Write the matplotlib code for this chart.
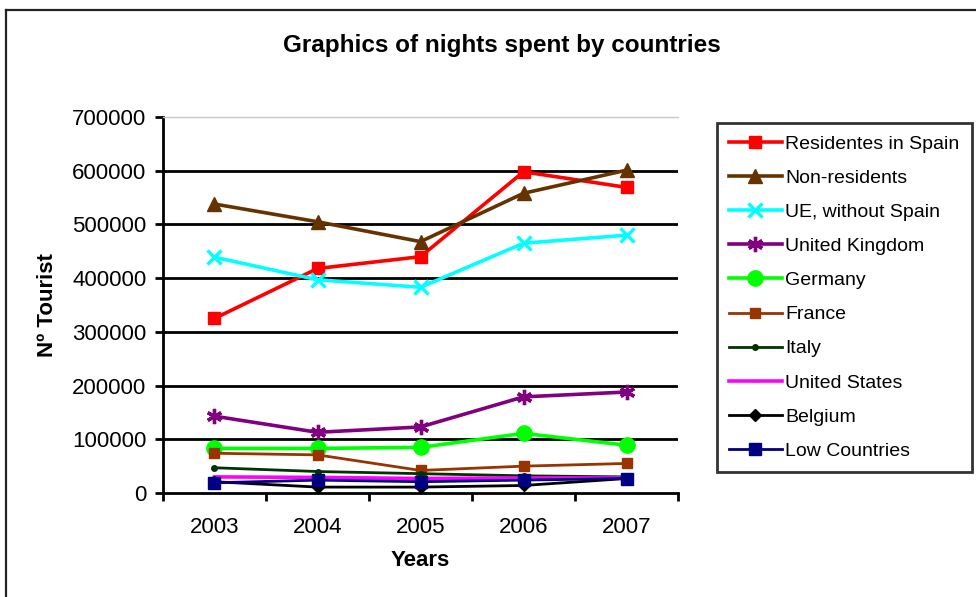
import matplotlib
matplotlib.use('Agg')
import matplotlib.pyplot as plt
from matplotlib.lines import Line2D

# DATA
years = ["2003", "2004", "2005", "2006", "2007"]
residents_spain = [325000, 418000, 440000, 598000, 569000]
non_residents = [538000, 505000, 468000, 558000, 601000]
ue_without_spain = [439000, 397000, 383000, 465000, 480000]
united_kingdom = [143000, 113000, 123000, 179000, 188000]
germany = [83000, 83000, 85000, 111000, 89000]
france = [74000, 71000, 42000, 50000, 55000]
italy = [47000, 40000, 36000, 32000, 30000]
united_states = [30000, 29000, 27000, 28000, 28000]
belgium = [21000, 11000, 11000, 14000, 27000]
low_countries = [19000, 24000, 21000, 24000, 27000]


def nights_chart():

    plt.rcParams['font.family'] = ['Liberation Sans', 'DejaVu Sans']

    fig = plt.figure(figsize=(9.76, 5.97), dpi=100)
    ax = fig.add_axes([0.167, 0.1742, 0.5277, 0.6298])

    x = list(range(len(years)))

    # SERIES: (values, label, color, marker, marker size, line width)
    series = [
        (residents_spain, "Residentes in Spain", "#FF0000", "s", 9, 2.6),
        (non_residents, "Non-residents", "#663300", "^", 10, 2.6),
        (ue_without_spain, "UE, without Spain", "#00FFFF", "x", 10, 2.6),
        (united_kingdom, "United Kingdom", "#800080", (6, 2, 0), 11, 2.6),
        (germany, "Germany", "#00FF00", "o", 11, 2.6),
        (france, "France", "#993300", "s", 7, 2.0),
        (italy, "Italy", "#003300", "o", 4, 2.0),
        (united_states, "United States", "#FF00FF", "_", 6, 2.6),
        (belgium, "Belgium", "#000000", "D", 6, 2.0),
        (low_countries, "Low Countries", "#000080", "s", 9, 2.0),
    ]

    for values, label, color, marker, msize, lw in series:
        ax.plot(x, values, color=color, marker=marker, markersize=msize,
                markeredgewidth=2.4 if marker in ("x", (6, 2, 0)) else 1,
                markeredgecolor=color, markerfacecolor=color,
                linewidth=lw, label=label, clip_on=False)

    # AXES
    ax.set_xlim(-0.5, len(years) - 0.5)
    ax.set_ylim(0, 700000)
    ax.set_yticks(range(0, 700001, 100000))
    ax.set_yticklabels([str(v) for v in range(0, 700001, 100000)])
    ax.set_xticks(x)
    ax.set_xticklabels(years)
    ax.set_xticks([i - 0.5 for i in range(len(years) + 1)], minor=True)
    ax.tick_params(axis='x', which='major', length=0, labelsize=16, pad=17)
    ax.tick_params(axis='x', which='minor', length=6, width=2, direction='out')
    ax.tick_params(axis='y', length=6, width=2, labelsize=16, pad=6)

    # GRID
    for v in range(100000, 700000, 100000):
        ax.axhline(v, color='black', linewidth=2, zorder=0.5)
    ax.spines['top'].set_color('#c8c8c8')
    ax.spines['top'].set_linewidth(1)
    ax.spines['right'].set_visible(False)
    ax.spines['left'].set_linewidth(2)
    ax.spines['bottom'].set_linewidth(2)

    # LABELS
    ax.set_xlabel("Years", fontsize=16, fontweight='bold', labelpad=9)
    ax.set_ylabel("Nº Tourist", fontsize=16, fontweight='bold', labelpad=10)
    fig.text(0.514, 0.924, "Graphics of nights spent by countries",
             ha='center', va='center', fontsize=17.5, fontweight='bold')

    # LEGEND
    leg = fig.legend(loc='upper left', bbox_to_anchor=(0.7346, 0.794),
                     fontsize=14, frameon=True, fancybox=False,
                     handlelength=2.7, handletextpad=0.2, labelspacing=0.85,
                     borderpad=0.62, borderaxespad=0)
    leg.get_frame().set_edgecolor('black')
    leg.get_frame().set_linewidth(2)

    # CHART BORDER
    fig.add_artist(Line2D([0.006, 1.0], [0.983, 0.983], color='#222222',
                          linewidth=1.6, transform=fig.transFigure))
    fig.add_artist(Line2D([0.006, 0.006], [0.0, 0.983], color='#222222',
                          linewidth=1.6, transform=fig.transFigure))

    fig.savefig("out.png", dpi=100)


if __name__ == "__main__":
    nights_chart()
